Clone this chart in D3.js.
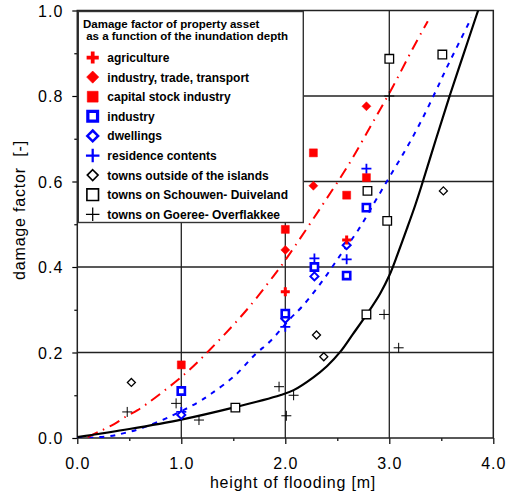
<!DOCTYPE html>
<html>
<head>
<meta charset="utf-8">
<script src="https://cdn.jsdelivr.net/npm/d3@7"></script>
<style>
    body { margin: 0; background: #fff; }
    svg { display: block; }
    text { font-family: "Liberation Sans", Arial, sans-serif; }
</style>
</head>
<body>
<svg id="chart" width="507" height="492"></svg>
<script>
'use strict';

// Tick values
const xTicks = [0, 1, 2, 3, 4];
const xMinor = [0.5, 1.5, 2.5, 3.5];
const yTicks = [0, 0.2, 0.4, 0.6, 0.8, 1.0];
const yMinor = [0.1, 0.3, 0.5, 0.7, 0.9];
const xGrid = [1, 2, 3];
const yGrid = [0.2, 0.4, 0.6, 0.8];

// Fitted curves [height, factor]
const blackCurve = [[0, 0.002], [0.5, 0.021], [1.0, 0.043], [1.5, 0.071], [1.95, 0.100], [2.08, 0.112],
    [2.27, 0.142], [2.40, 0.168], [2.53, 0.202], [2.65, 0.243], [2.78, 0.288], [2.91, 0.337], [3.0, 0.38],
    [3.08, 0.43], [3.17, 0.49], [3.25, 0.545], [3.31, 0.59], [3.45, 0.70], [3.58, 0.80], [3.71, 0.895],
    [3.84, 0.99], [3.88, 1.02]];
const redCurve = [[0.1, 0.002], [0.21, 0.015], [0.35, 0.032], [0.48, 0.052], [0.58, 0.065], [1.04, 0.151],
    [1.34, 0.223], [1.63, 0.30], [1.89, 0.38], [2.0, 0.416], [2.46, 0.583], [2.61, 0.64], [2.82, 0.729],
    [3.03, 0.82], [3.23, 0.913], [3.37, 0.975]];
const blueCurve = [[0, 0.0], [0.3, 0.004], [0.46, 0.012], [0.62, 0.023], [0.89, 0.05], [1.15, 0.082],
    [1.29, 0.104], [1.52, 0.147], [1.72, 0.198], [1.85, 0.225], [2.05, 0.28], [2.16, 0.307], [2.35, 0.365],
    [2.53, 0.428], [2.70, 0.486], [2.86, 0.552], [3.01, 0.614], [3.17, 0.68], [3.31, 0.743], [3.45, 0.813],
    [3.55, 0.865], [3.79, 0.983]];

// Observations per series
const agriculture = [[2.0, 0.342], [2.59, 0.463]];
const industryTrade = [[2.0, 0.44], [2.27, 0.59], [2.78, 0.776]];
const capitalStock = [[1.0, 0.171], [2.0, 0.488], [2.27, 0.667], [2.59, 0.568], [2.78, 0.609]];
const industry = [[1.0, 0.11], [2.0, 0.291], [2.28, 0.40], [2.59, 0.38], [2.78, 0.539]];
const dwellings = [[1.0, 0.054], [2.0, 0.279], [2.28, 0.378], [2.59, 0.451]];
const residence = [[1.0, 0.061], [2.0, 0.26], [2.28, 0.42], [2.59, 0.418], [2.78, 0.63]];
const townsOutside = [[0.52, 0.13], [2.30, 0.241], [2.37, 0.19], [3.52, 0.578]];
const schouwen = [[1.52, 0.071], [2.78, 0.289], [2.98, 0.508], [2.79, 0.578], [3.0, 0.887], [3.51, 0.897]];
const goeree = [[0.48, 0.061], [0.95, 0.081], [1.17, 0.042], [1.94, 0.12], [2.01, 0.052], [2.08, 0.10],
    [2.95, 0.289], [3.09, 0.211], [3.0, 0.80]];

const legendTitle = ['Damage factor of property asset', ' as a function of the inundation depth'];
const legendLabels = ['agriculture', 'industry, trade, transport', 'capital stock industry', 'industry',
    'dwellings', 'residence contents', 'towns outside of the islands', 'towns on Schouwen- Duiveland',
    'towns on Goeree- Overflakkee'];

// Marker styles in legend order
const series = [
    {data: agriculture, shape: 'plus', color: 'red', fill: 'none', r: 4.5, sw: 3},
    {data: industryTrade, shape: 'diamond', color: 'red', fill: 'red', r: 4.5, sw: 0.5},
    {data: capitalStock, shape: 'square', color: 'red', fill: 'red', r: 4, sw: 0.5},
    {data: industry, shape: 'square', color: 'blue', fill: '#fff', r: 3.6, sw: 2.6},
    {data: dwellings, shape: 'diamond', color: 'blue', fill: '#fff', r: 4, sw: 2},
    {data: residence, shape: 'plus', color: 'blue', fill: 'none', r: 5, sw: 1.8},
    {data: townsOutside, shape: 'diamond', color: '#000', fill: '#fff', r: 4, sw: 1.3},
    {data: schouwen, shape: 'square', color: '#000', fill: '#fff', r: 4.3, sw: 1.3},
    {data: goeree, shape: 'plus', color: '#000', fill: 'none', r: 5, sw: 1}
];

function markerPath(shape, r) {
    if (shape === 'plus') {
        return `M${-r},0H${r}M0,${-r}V${r}`;
    }
    if (shape === 'diamond') {
        return `M0,${-r}L${r},0L0,${r}L${-r},0Z`;
    }
    return `M${-r},${-r}H${r}V${r}H${-r}Z`;
}

const svg = d3.select('#chart');

// Scales
const x = d3.scaleLinear().domain([0, 4]).range([77.3, 493.3]);
const y = d3.scaleLinear().domain([0, 1]).range([438, 10.5]);

svg.append('clipPath')
    .attr('id', 'plot-clip')
    .append('rect')
        .attr('x', x(0))
        .attr('y', y(1))
        .attr('width', x(4) - x(0))
        .attr('height', y(0) - y(1));

// Grid
const grid = svg.append('g').attr('stroke', '#222').attr('stroke-width', 1.3);
grid.selectAll('.gx').data(xGrid).enter().append('line')
    .attr('x1', (d) => x(d)).attr('x2', (d) => x(d))
    .attr('y1', y(0)).attr('y2', y(1));
grid.selectAll('.gy').data(yGrid).enter().append('line')
    .attr('x1', x(0)).attr('x2', x(4))
    .attr('y1', (d) => y(d)).attr('y2', (d) => y(d));

// Axes
const fmt = d3.format('.1f');
const xAxis = svg.append('g')
    .attr('transform', `translate(0, ${y(0)})`)
    .call(d3.axisBottom(x).tickValues(xTicks).tickFormat(fmt).tickSize(6).tickPadding(14));
svg.append('g')
    .attr('transform', `translate(0, ${y(0)})`)
    .call(d3.axisBottom(x).tickValues(xMinor).tickFormat('').tickSize(3));
const yAxis = svg.append('g')
    .attr('transform', `translate(${x(0)}, 0)`)
    .call(d3.axisLeft(y).tickValues(yTicks).tickFormat(fmt).tickSize(5).tickPadding(9));
svg.append('g')
    .attr('transform', `translate(${x(0)}, 0)`)
    .call(d3.axisLeft(y).tickValues(yMinor).tickFormat('').tickSize(3));

svg.selectAll('.domain').remove();
svg.selectAll('.tick line').attr('stroke', '#000').attr('stroke-width', 1.2);
xAxis.selectAll('text').attr('font-size', '16px').attr('fill', '#000').attr('letter-spacing', '1px');
yAxis.selectAll('text').attr('font-size', '16px').attr('fill', '#000').attr('letter-spacing', '1px')
    .attr('dy', '0.36em');

// Frame
svg.append('rect')
    .attr('x', x(0)).attr('y', y(1))
    .attr('width', x(4) - x(0)).attr('height', y(0) - y(1))
    .attr('fill', 'none').attr('stroke', '#222').attr('stroke-width', 1.5);

// Axis titles
svg.append('text')
    .attr('x', 293).attr('y', 488)
    .attr('text-anchor', 'middle')
    .attr('font-size', '16px')
    .attr('letter-spacing', '0.8px')
    .text('height of flooding [m]');
svg.append('text')
    .attr('transform', 'translate(25, 210) rotate(-90)')
    .attr('text-anchor', 'middle')
    .attr('font-size', '16px')
    .attr('letter-spacing', '0.8px')
    .style('white-space', 'pre')
    .text('damage factor  [-]');

// Legend box
const legend = svg.append('g');
legend.append('rect')
    .attr('x', 78.3).attr('y', 11.5)
    .attr('width', 225).attr('height', 211)
    .attr('fill', '#fff').attr('stroke', '#333').attr('stroke-width', 1.4);
legend.selectAll('.ltitle').data(legendTitle).enter().append('text')
    .attr('x', 83).attr('y', (d, i) => 28 + i * 11.5)
    .attr('font-size', '11.5px').attr('font-weight', 'bold')
    .style('white-space', 'pre')
    .text((d) => d);
const items = legend.selectAll('.item').data(series).enter().append('g')
    .attr('transform', (d, i) => `translate(0, ${57.5 + i * 19.6})`);
items.append('path')
    .attr('transform', 'translate(92.7, 0)')
    .attr('d', (d) => markerPath(d.shape, d.r * 1.35))
    .attr('fill', (d) => d.fill)
    .attr('stroke', (d) => d.color)
    .attr('stroke-width', (d) => d.sw * 1.25);
items.append('text')
    .attr('x', 107.3).attr('y', 4.5)
    .attr('font-size', '12px').attr('font-weight', 'bold')
    .text((d, i) => legendLabels[i]);

// Curves
const line = d3.line()
    .x((d) => x(d[0]))
    .y((d) => y(d[1]))
    .curve(d3.curveCatmullRom.alpha(0.5));
const curves = svg.append('g').attr('clip-path', 'url(#plot-clip)').attr('fill', 'none');
curves.append('path').datum(blueCurve)
    .attr('d', line).attr('stroke', 'blue').attr('stroke-width', 2).attr('stroke-dasharray', '5,6');
curves.append('path').datum(redCurve)
    .attr('d', line).attr('stroke', 'red').attr('stroke-width', 2).attr('stroke-dasharray', '11,6,1.5,6');
curves.append('path').datum(blackCurve)
    .attr('d', line).attr('stroke', '#000').attr('stroke-width', 2.2);

// Markers, red series on top
const marks = svg.append('g');
series.slice().reverse().forEach((s) => {
    marks.append('g').selectAll('path').data(s.data).enter().append('path')
        .attr('transform', (d) => `translate(${x(d[0])}, ${y(d[1])})`)
        .attr('d', markerPath(s.shape, s.r))
        .attr('fill', s.fill)
        .attr('stroke', s.color)
        .attr('stroke-width', s.sw);
});
</script>
</body>
</html>
